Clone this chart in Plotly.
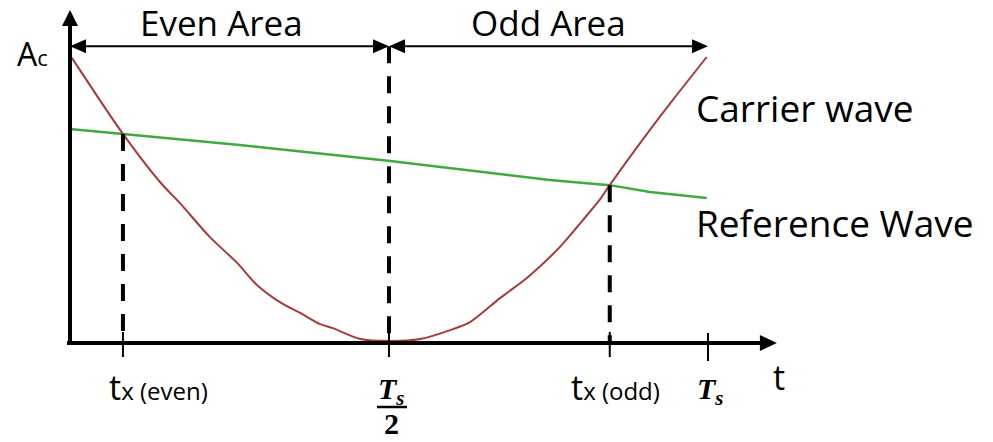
import numpy as np
import plotly.graph_objects as go

# Time in units of the switching period Ts, amplitude normalised to Ac
carrier_t = [0.003, 0.083, 0.141, 0.172, 0.219, 0.262, 0.293, 0.329, 0.361, 0.392,
             0.412, 0.455, 0.502, 0.549, 0.596, 0.627, 0.674, 0.718, 0.768, 0.804,
             0.831, 0.846, 0.909, 0.945, 0.998]
carrier_v = [0.997, 0.731, 0.563, 0.490, 0.371, 0.280, 0.203, 0.143, 0.105, 0.066,
             0.052, 0.014, 0.007, 0.014, 0.045, 0.073, 0.157, 0.231, 0.336, 0.430,
             0.503, 0.552, 0.745, 0.850, 1.000]

reference_t = [0.0, 0.083, 0.266, 0.502, 0.752, 0.846, 0.909, 0.998]
reference_v = [0.748, 0.731, 0.692, 0.636, 0.570, 0.552, 0.528, 0.507]

tick_t = [0.083, 0.5, 0.846, 1.0]
tick_names = ["tx_even", "half", "tx_odd", "Ts"]
area_edges = [0.0, 0.5, 1.0]
area_names = ["Even Area", "Odd Area"]

# Canvas and axis extents
W, H = 993, 442
T_RANGE = [-70 / 638, 923 / 638]
V_RANGE = [-99 / 286, 343 / 286]
PT = (T_RANGE[1] - T_RANGE[0]) / W   # one pixel in t units
PV = (V_RANGE[1] - V_RANGE[0]) / H   # one pixel in v units

T_AXIS_END = 1.108
V_AXIS_END = 1.164
AREA_V = 1.038
AREA_LABEL_V = 1.121

SANS = "Open Sans"
SERIF = "Liberation Serif"
BLACK = "#000000"
CARRIER_COLOR = "#A93A3A"
REFERENCE_COLOR = "#3DAB3D"


def head(tip_t, tip_v, direction, length=16, half=8):
    """Filled triangular arrow head as an SVG path in data units."""
    if direction == "up":
        pts = [(tip_t, tip_v), (tip_t - half * PT, tip_v - length * PV),
               (tip_t + half * PT, tip_v - length * PV)]
    elif direction == "right":
        pts = [(tip_t, tip_v), (tip_t - length * PT, tip_v + half * PV),
               (tip_t - length * PT, tip_v - half * PV)]
    else:
        pts = [(tip_t, tip_v), (tip_t + length * PT, tip_v + half * PV),
               (tip_t + length * PT, tip_v - half * PV)]
    return "M " + " L ".join(f"{a},{b}" for a, b in pts) + " Z"


fig = go.Figure()

fig.add_trace(go.Scatter(x=reference_t, y=reference_v, mode="lines",
                         line=dict(color=REFERENCE_COLOR, width=2.5),
                         hoverinfo="skip"))
fig.add_trace(go.Scatter(x=carrier_t, y=carrier_v, mode="lines",
                         line=dict(color=CARRIER_COLOR, width=2, shape="spline", smoothing=0.8),
                         hoverinfo="skip"))

shapes = []

# Axes with arrow heads
shapes.append(dict(type="line", x0=0, x1=0, y0=-2 * PV, y1=V_AXIS_END - 14 * PV,
                   line=dict(color=BLACK, width=4)))
shapes.append(dict(type="path", path=head(0, V_AXIS_END, "up", 16, 8),
                   fillcolor=BLACK, line=dict(color=BLACK, width=0)))
shapes.append(dict(type="line", x0=-3 * PT, x1=T_AXIS_END - 14 * PT, y0=0, y1=0,
                   line=dict(color=BLACK, width=4)))
shapes.append(dict(type="path", path=head(T_AXIS_END, 0, "right", 17, 8),
                   fillcolor=BLACK, line=dict(color=BLACK, width=0)))

# Tick marks
for name, t in zip(tick_names, tick_t):
    down = 18 if name == "Ts" else 14
    up = 10 if name == "Ts" else 11
    shapes.append(dict(type="line", x0=t, x1=t, y0=up * PV, y1=-down * PV,
                       line=dict(color=BLACK, width=2)))

# Dashed guides at the crossings and at Ts/2
tx_even, half, tx_odd = tick_t[0], tick_t[1], tick_t[2]
guides = [(tx_even, float(np.interp(tx_even, carrier_t, carrier_v))),
          (half, AREA_V),
          (tx_odd, float(np.interp(tx_odd, carrier_t, carrier_v)))]
for t, top in guides:
    shapes.append(dict(type="line", x0=t, x1=t, y0=top, y1=0,
                       line=dict(color=BLACK, width=4, dash="17px,13px")))

# Even / odd area double arrows
for a, b in zip(area_edges[:-1], area_edges[1:]):
    shapes.append(dict(type="line", x0=a + 12 * PT, x1=b - 12 * PT, y0=AREA_V, y1=AREA_V,
                       line=dict(color=BLACK, width=2)))
    shapes.append(dict(type="path", path=head(a, AREA_V, "left", 16, 7),
                       fillcolor=BLACK, line=dict(color=BLACK, width=0)))
    shapes.append(dict(type="path", path=head(b, AREA_V, "right", 16, 7),
                       fillcolor=BLACK, line=dict(color=BLACK, width=0)))

# Fraction bar of Ts/2
shapes.append(dict(type="line", x0=half - 12 * PT, x1=half + 18 * PT,
                   y0=-64 * PV, y1=-64 * PV, line=dict(color=BLACK, width=2.5)))

annotations = []


def text(t, v, s, size, family=SANS, xanchor="center", yanchor="middle", xshift=0, yshift=0):
    annotations.append(dict(x=t, y=v, text=s, showarrow=False, xref="x", yref="y",
                            xanchor=xanchor, yanchor=yanchor, xshift=xshift, yshift=yshift,
                            font=dict(family=family, size=size, color=BLACK)))


# Area labels
text((area_edges[0] + area_edges[1]) / 2, AREA_LABEL_V, area_names[0], 35, xshift=-8)
text((area_edges[1] + area_edges[2]) / 2, AREA_LABEL_V, area_names[1], 35)

# Wave labels
text(T_AXIS_END - 130 * PT, 0.825, "Carrier wave", 37, xanchor="left", xshift=47)
text(T_AXIS_END - 130 * PT, 0.423, "Reference Wave", 37, xanchor="left", xshift=47)

# Axis labels
text(0, 1.012, "A<span style='font-size:22px'>c</span>", 32, xanchor="right", xshift=-20)
text(T_AXIS_END, -34 * PV, "t", 34, xshift=2)

# Tick labels
text(tx_even, -19 * PV, "t<span style='font-size:24px'>x (even)</span>", 34, yanchor="top", xshift=36)
text(tx_odd, -19 * PV, "t<span style='font-size:24px'>x (odd)</span>", 34, yanchor="top", xshift=6)
text(half, -27 * PV, "<b><i>T<sub>s</sub></i></b>", 30, family=SERIF, yanchor="top", xshift=2)
text(half, -62 * PV, "<b>2</b>", 30, family=SERIF, yanchor="top", xshift=2)
text(tick_t[3], -27 * PV, "<b><i>T<sub>s</sub></i></b>", 30, family=SERIF, yanchor="top", xshift=2)

fig.update_layout(
    width=W, height=H,
    margin=dict(l=0, r=0, t=0, b=0),
    paper_bgcolor="white", plot_bgcolor="white",
    showlegend=False,
    xaxis=dict(range=T_RANGE, visible=False, fixedrange=True),
    yaxis=dict(range=V_RANGE, visible=False, fixedrange=True),
    shapes=shapes,
    annotations=annotations,
)

fig.write_html("out.html")
